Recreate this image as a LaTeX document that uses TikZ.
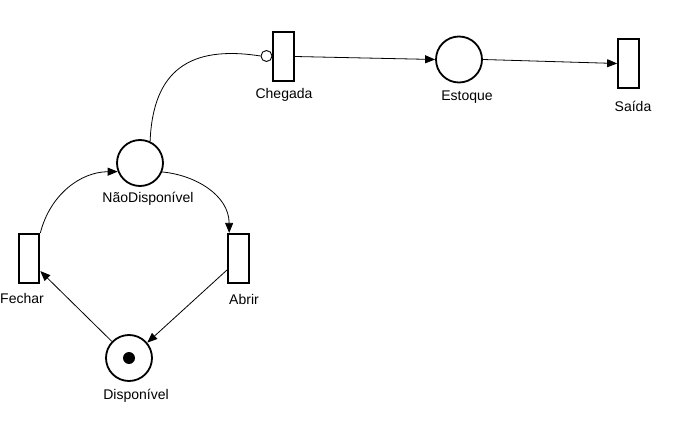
\documentclass[tikz,border=0pt]{standalone}
\usepackage{fontspec}
\setmainfont{Liberation Sans}
\usetikzlibrary{arrows.meta}
\begin{document}
\begin{tikzpicture}[x=1pt,y=-1pt,
  place/.style={circle,draw,line width=1.8pt,minimum size=46pt,inner sep=0pt},
  trans/.style={rectangle,draw,line width=2.2pt,minimum width=20.5pt,minimum height=49pt,inner sep=0pt},
  lbl/.style={font=\fontsize{14}{16}\selectfont,inner sep=0pt,anchor=base},
  arc/.style={line width=0.8pt,-{Triangle[length=10pt,width=8pt]}},
  inhib/.style={circle,draw,line width=0.9pt,minimum size=11pt,inner sep=0pt},
  token/.style={circle,fill,minimum size=12pt,inner sep=0pt}]
\useasboundingbox (0,0) rectangle (675,425);
% transitions
\node[trans] (chegada) at (283.5,56.5) {};
\node[trans] (saida) at (628.5,63.5) {};
\node[trans] (fechar) at (29,258.5) {};
\node[trans] (abrir) at (238.5,258.5) {};
% places
\node[place] (estoque) at (459,59.5) {};
\node[place] (naodisp) at (140,163) {};
\node[place] (disp) at (129,358) {};
\node[token] (tok) at (disp.center) {};
% inhibitor circle
\node[inhib] (inh) at (266.5,56) {};
% labels
\node[lbl] (lchegada) at (284,98.5) {Chegada};
\node[lbl] (lestoque) at (467,100.5) {Estoque};
\node[lbl] (lsaida) at (633,112) {Saída};
\node[lbl] (lnaodisp) at (148,203) {NãoDisponível};
\node[lbl] (lfechar) at (22,303) {Fechar};
\node[lbl] (labrir) at (244,304) {Abrir};
\node[lbl] (ldisp) at (136,399) {Disponível};
% arcs
\draw[line width=0.8pt] (naodisp.65) .. controls (153,70) and (190,45) .. (inh.west);
\draw[arc] (chegada.east) -- (estoque.west);
\draw[arc] (estoque.east) -- (saida.west);
\draw[arc] (naodisp.338) .. controls (195,175) and (229,195) .. (abrir.110);
\draw[arc] (fechar.north east) .. controls (50,195) and (80,172) .. (naodisp.201);
\draw[arc] (abrir.225) -- (disp.40);
\draw[arc] (disp.136) -- (fechar.312);
\end{tikzpicture}
\end{document}
